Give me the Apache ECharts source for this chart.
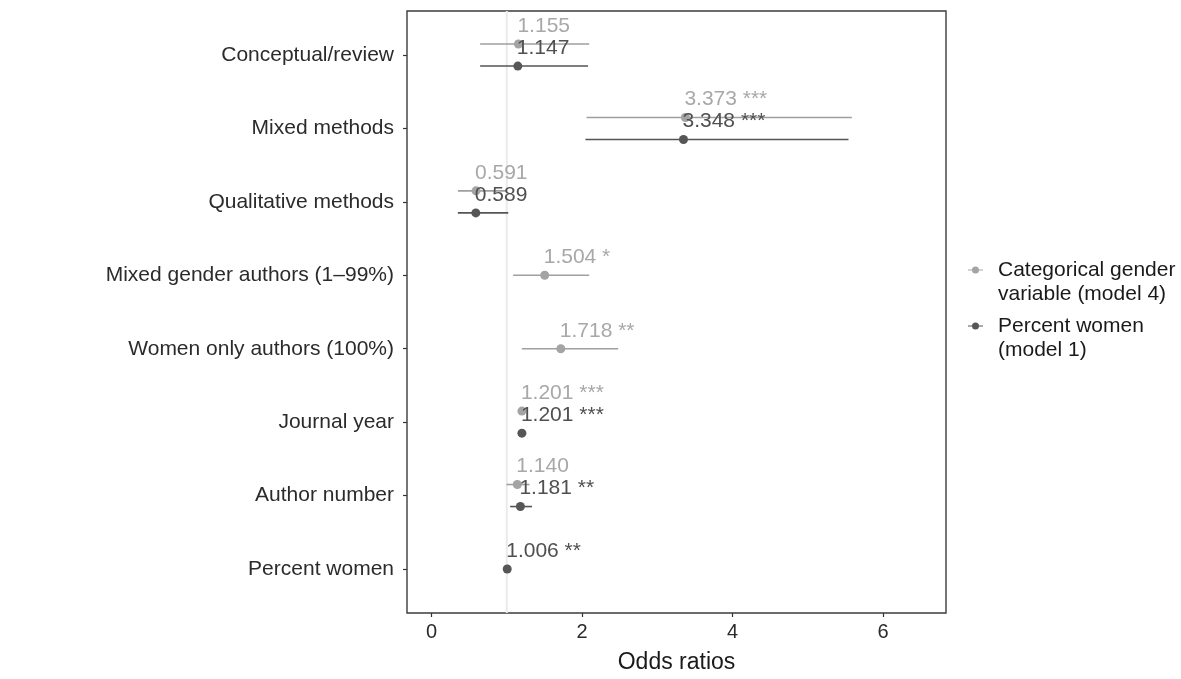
<!DOCTYPE html>
<html>
<head>
<meta charset="utf-8">
<script src="https://cdn.jsdelivr.net/npm/echarts@6/dist/echarts.min.js"></script>
<style>html,body{margin:0;padding:0;background:#fff}#c{width:1181px;height:679px}</style>
</head>
<body>
<div id="c"></div>
<script>
const categories = ['Conceptual/review','Mixed methods','Qualitative methods','Mixed gender authors (1\u201399%)','Women only authors (100%)','Journal year','Author number','Percent women'];
// Categorical gender variable (model 4)
const catOR    = [1.155, 3.373, 0.591, 1.504, 1.718, 1.201, 1.140, null];
const catLow   = [0.646, 2.060, 0.350, 1.085, 1.200, 1.165, 0.997, null];
const catHigh  = [2.095, 5.585, 1.000, 2.095, 2.480, 1.238, 1.303, null];
const catStars = ['', '***', '', '*', '**', '***', '', ''];
// Percent women (model 1)
const pctOR    = [1.147, 3.348, 0.589, null, null, 1.201, 1.181, 1.006];
const pctLow   = [0.646, 2.045, 0.350, null, null, 1.165, 1.045, 1.002];
const pctHigh  = [2.080, 5.540, 1.020, null, null, 1.238, 1.335, 1.010];
const pctStars = ['', '***', '', '', '', '***', '**', '**'];
const xTicks = [0, 2, 4, 6];
const refValue = [1];
const seriesNames = ['Categorical gender variable (model 4)', 'Percent women (model 1)'];
const legendLines = [['Categorical gender', 'variable (model 4)'], ['Percent women', '(model 1)']];
const xTitle = 'Odds ratios';

const FONT = '"Liberation Sans", Arial, Helvetica, sans-serif';
const DODGE = 0.15;
const catPos = categories.map((c, i) => i + 1);
const both = categories.map((c, i) => catOR[i] != null && pctOR[i] != null);

function pts(or, stars, sign) {
  const out = [];
  or.forEach((v, i) => {
    if (v == null) return;
    const y = catPos[i] + (both[i] ? sign * DODGE : 0);
    out.push([v, y, v.toFixed(3) + (stars[i] ? ' ' + stars[i] : '')]);
  });
  return out;
}
function bars(or, lo, hi, sign) {
  const out = [];
  or.forEach((v, i) => {
    if (v == null) return;
    const y = catPos[i] + (both[i] ? sign * DODGE : 0);
    out.push([lo[i], hi[i], y]);
  });
  return out;
}
function barRender(color) {
  return function (params, api) {
    const a = api.coord([api.value(0), api.value(2)]);
    const b = api.coord([api.value(1), api.value(2)]);
    return { type: 'line', shape: { x1: a[0], y1: a[1], x2: b[0], y2: b[1] },
      style: { stroke: color, lineWidth: 1.6 } };
  };
}
const gray = { pt: '#a4a4a4', bar: '#9f9f9f', txt: '#a8a8a8' };
const dark = { pt: '#565656', bar: '#555555', txt: '#505050' };
const icon = 'path://M0,2.9H15V4.1H0Z M4,3.5A3.5,3.5,0,1,1,11,3.5A3.5,3.5,0,1,1,4,3.5Z';

function legendFor(idx, top) {
  return {
    show: true, orient: 'vertical', left: 968, top: top, padding: 0,
    data: [seriesNames[idx]], icon: icon, itemWidth: 15, itemHeight: 7,
    selectedMode: false,
    formatter: () => '\n' + legendLines[idx].join('\n'),
    textStyle: { fontFamily: FONT, fontSize: 21, lineHeight: 24, color: '#1a1a1a', padding: [0, 0, 0, 10] }
  };
}

const chart = echarts.init(document.getElementById('c'), null, { renderer: 'canvas' });
chart.setOption({
  animation: false,
  backgroundColor: '#ffffff',
  textStyle: { fontFamily: FONT },
  grid: { left: 407, right: 235, top: 11, bottom: 64, show: true, borderColor: '#3c3c3c', borderWidth: 1.4, backgroundColor: 'transparent' },
  legend: [legendFor(0, 234), legendFor(1, 290)],
  xAxis: {
    type: 'value', min: -0.3255, max: 6.8355,
    axisLine: { show: false, onZero: false },
    splitLine: { show: false },
    axisTick: { show: true, length: 4, customValues: xTicks, lineStyle: { color: '#333', width: 1.2 } },
    axisLabel: { customValues: xTicks, fontSize: 20, color: '#2b2b2b', margin: 9, fontFamily: FONT },
    name: xTitle, nameLocation: 'middle', nameGap: 38,
    nameTextStyle: { fontSize: 23, color: '#1a1a1a', fontFamily: FONT }
  },
  yAxis: {
    type: 'value', inverse: true, min: 0.4, max: 8.6,
    axisLine: { show: false, onZero: false },
    splitLine: { show: false },
    axisTick: { show: true, length: 4, customValues: catPos, lineStyle: { color: '#333', width: 1.2 } },
    axisLabel: { customValues: catPos, fontSize: 21, color: '#2b2b2b', margin: 13, fontFamily: FONT,
      formatter: v => categories[Math.round(v) - 1] || '' }
  },
  series: [
    { type: 'custom', name: 'ref', z: 1, silent: true, data: refValue.map(v => [v]),
      renderItem: function (params, api) {
        const cs = params.coordSys;
        const x = api.coord([api.value(0), 1])[0];
        return { type: 'line', shape: { x1: x, y1: cs.y, x2: x, y2: cs.y + cs.height },
          style: { stroke: '#ebebeb', lineWidth: 2 } };
      } },
    { type: 'custom', name: 'ci-gray', z: 2, silent: true, data: bars(catOR, catLow, catHigh, -1), renderItem: barRender(gray.bar) },
    { type: 'custom', name: 'ci-dark', z: 2, silent: true, data: bars(pctOR, pctLow, pctHigh, 1), renderItem: barRender(dark.bar) },
    { type: 'scatter', name: seriesNames[0], z: 3, symbol: 'circle', symbolSize: 9,
      itemStyle: { color: gray.pt, opacity: 1 },
      data: pts(catOR, catStars, -1),
      label: { show: true, position: [3.5, -13.5], align: 'left', verticalAlign: 'middle',
        fontSize: 21, color: gray.txt, fontFamily: FONT, formatter: p => p.data[2] } },
    { type: 'scatter', name: seriesNames[1], z: 4, symbol: 'circle', symbolSize: 9,
      itemStyle: { color: dark.pt, opacity: 1 },
      data: pts(pctOR, pctStars, 1),
      label: { show: true, position: [3.5, -13.5], align: 'left', verticalAlign: 'middle',
        fontSize: 21, color: dark.txt, fontFamily: FONT, formatter: p => p.data[2] } }
  ]
});
</script>
</body>
</html>
